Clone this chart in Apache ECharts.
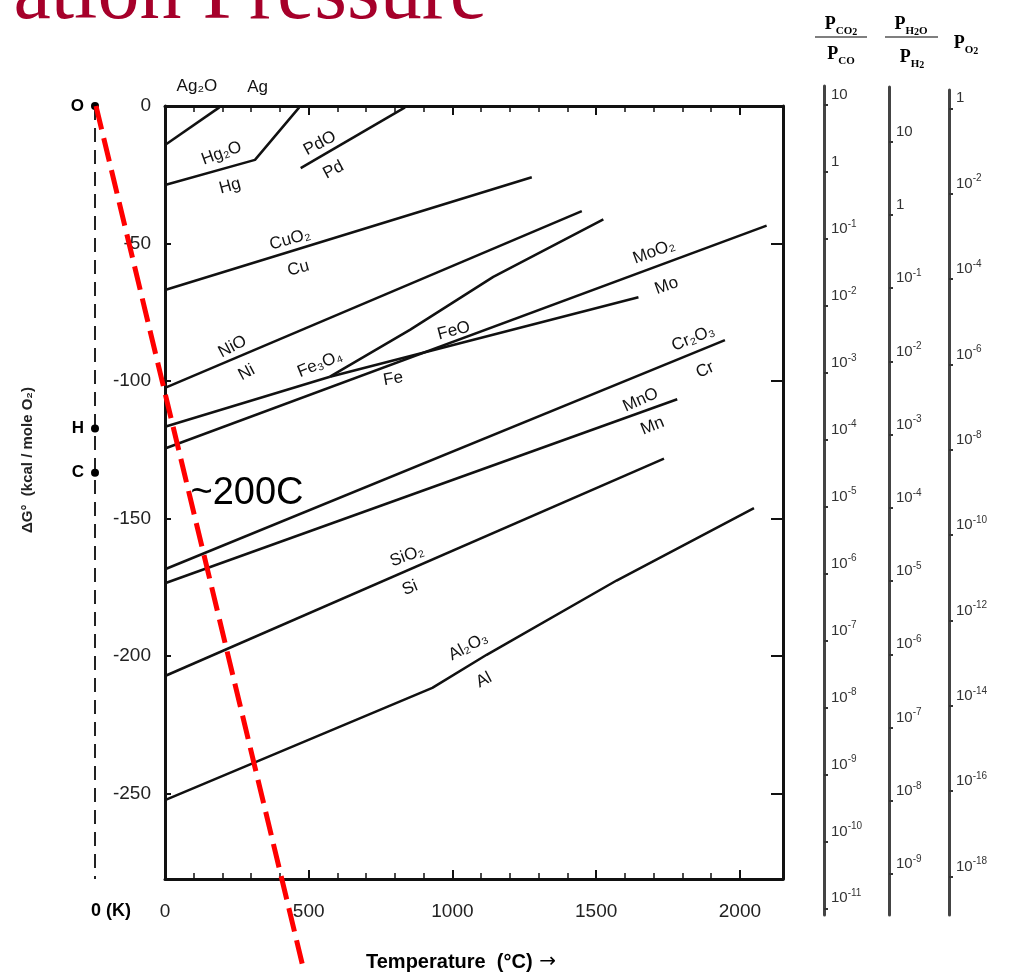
<!DOCTYPE html>
<html>
<head>
<meta charset="utf-8">
<script src="https://cdn.jsdelivr.net/npm/echarts@6/dist/echarts.min.js"></script>
<style>
html, body { margin: 0; padding: 0; background: #fff; }
#chart { width: 1010px; height: 976px; }
</style>
</head>
<body>
<div id="chart"></div>
<script>
// Ellingham lines: [temperature °C, ΔG° kcal / mole O2]
var agLine = [[0, -14.2], [189, -0.5]];
var hgLine = [[0, -28.7], [313, -19.6], [467, -0.5]];
var pdLine = [[472, -22.6], [835, -0.5]];
var cuLine = [[0, -66.9], [1276, -25.9]];
var niLine = [[0, -102.5], [1450, -38.2]];
var feFe3o4Line = [[0, -116.6], [574, -98.4]];
var feFeoLine = [[574, -98.4], [1647, -69.5]];
var feoFe3o4Line = [[574, -98.4], [852, -81.4], [1142, -62.1], [1525, -41.2]];
var moLine = [[0, -124.5], [2093, -43.5]];
var crLine = [[0, -168.4], [1948, -85.1]];
var mnLine = [[0, -173.5], [1782, -106.6]];
var siLine = [[0, -207.2], [1736, -128.2]];
var alLine = [[0, -252.3], [930, -211.5], [1119, -199.5], [1571, -172.5], [2049, -146.2]];

// 0 K axis with the O / H / C points, and the red guide line
var zeroK = -243.5;
var zeroKLine = [[zeroK, 0], [zeroK, -281]];
var nomoPoints = [['O', 0], ['H', -117.2], ['C', -133.3]];
var redLine = [[-240, 0], [481, -313.4]];

// axis ticks and labels
var tempLabels = [0, 500, 1000, 1500, 2000];
var tempMinor = [100, 200, 300, 400, 600, 700, 800, 900, 1100, 1200, 1300, 1400, 1600, 1700, 1800, 1900];
var dgLabels = [0, -50, -100, -150, -200, -250];

// right-hand scales, log10 values of the tick labels
var co2Exp = [1, 0, -1, -2, -3, -4, -5, -6, -7, -8, -9, -10, -11];
var h2oExp = [1, 0, -1, -2, -3, -4, -5, -6, -7, -8, -9];
var o2Exp = [0, -2, -4, -6, -8, -10, -12, -14, -16, -18];

// curve labels: text, T, ΔG, angle
var curveLabels = [
  ['Ag₂O', 111, 7.3, 0], ['Ag', 322, 6.9, 0],
  ['Hg₂O', 197, -17.2, 20], ['Hg', 226, -29.1, 15],
  ['PdO', 539, -13.6, 28], ['Pd', 586, -23.3, 28],
  ['CuO₂', 435, -48.5, 16], ['Cu', 464, -59, 15],
  ['NiO', 235, -87.5, 28], ['Ni', 284, -96.9, 28],
  ['Fe₃O₄', 539, -93.8, 22], ['Fe', 794, -99.2, 10], ['FeO', 1005, -81.7, 15],
  ['MoO₂', 1701, -53, 20], ['Mo', 1745, -65.4, 20],
  ['Cr₂O₃', 1838, -84.4, 22], ['Cr', 1879, -96, 25],
  ['MnO', 1655, -106.9, 24], ['Mn', 1696, -116.3, 22],
  ['SiO₂', 842, -163.6, 20], ['Si', 852, -175.2, 22],
  ['Al₂O₃', 1055, -196.5, 28], ['Al', 1110, -208.7, 28]
];

var sans = "'Liberation Sans', Arial, sans-serif";
var serif = "'Liberation Serif', 'Times New Roman', serif";

function pow10(n) {
  if (n === 0) return '1';
  if (n === 1) return '10';
  return '10{s|' + n + '}';
}

function curve(data) {
  return {
    type: 'line',
    data: data,
    showSymbol: false,
    symbol: 'none',
    lineStyle: { color: '#111', width: 2.5 },
    z: 3
  };
}

function hiddenX(idx, min, max) {
  return { type: 'value', gridIndex: idx, min: min, max: max, show: false };
}

function logAxis(idx, min, max, exps) {
  return {
    type: 'value',
    gridIndex: idx,
    min: min,
    max: max,
    position: 'left',
    splitLine: { show: false },
    axisLine: { show: true, onZero: false, lineStyle: { color: '#444', width: 3 } },
    axisTick: { show: true, inside: true, length: 4, customValues: exps, lineStyle: { color: '#333', width: 2 } },
    axisLabel: {
      inside: true,
      margin: 7,
      customValues: exps,
      formatter: function (v) { return pow10(v); },
      fontFamily: sans,
      fontSize: 15,
      color: '#333',
      verticalAlign: 'bottom',
      lineHeight: 20,
      rich: { s: { fontSize: 10, fontFamily: sans, color: '#333', verticalAlign: 'top', lineHeight: 10 } }
    }
  };
}

var chart = echarts.init(document.getElementById('chart'));

var headRich = {
  p: { fontSize: 18, fontWeight: 'bold', fontFamily: serif, color: '#333', lineHeight: 26 },
  s: { fontSize: 11, fontWeight: 'bold', fontFamily: serif, color: '#333', lineHeight: 13, verticalAlign: 'bottom' },
  t: { fontSize: 10, fontWeight: 'bold', fontFamily: serif, color: '#333', lineHeight: 11, verticalAlign: 'bottom' }
};

function head(text, x, y) {
  return {
    type: 'text', x: x, y: y,
    style: { text: text, rich: headRich, align: 'center', verticalAlign: 'middle' }
  };
}

var plainNum = function (v) { return String(v); };

var option = {
  backgroundColor: '#fff',
  animation: false,
  grid: [
    { left: 165, top: 106, width: 618, height: 773 },
    { left: 824, top: 86, width: 40, height: 829 },
    { left: 889, top: 87, width: 40, height: 828 },
    { left: 949, top: 90, width: 40, height: 825 },
    // same scale as the main plot, widened to reach the 0 K line
    { left: 95, top: 106, width: 688, height: 773 }
  ],
  xAxis: [
    {
      type: 'value', gridIndex: 0, min: 0, max: 2150, position: 'bottom',
      splitLine: { show: false },
      axisLine: { onZero: false, lineStyle: { color: '#111', width: 3 } },
      axisTick: { inside: true, length: 9, customValues: tempLabels, lineStyle: { color: '#111', width: 2 } },
      axisLabel: { customValues: tempLabels, formatter: plainNum, margin: 23, fontSize: 19, fontFamily: sans, color: '#222' }
    },
    {
      type: 'value', gridIndex: 0, min: 0, max: 2150, position: 'bottom',
      splitLine: { show: false },
      axisLine: { show: false, onZero: false },
      axisTick: { inside: true, length: 6, customValues: tempMinor, lineStyle: { color: '#111', width: 1.5 } },
      axisLabel: { show: false }
    },
    {
      type: 'value', gridIndex: 0, min: 0, max: 2150, position: 'top',
      splitLine: { show: false },
      axisLine: { onZero: false, lineStyle: { color: '#111', width: 3 } },
      axisTick: { inside: true, length: 9, customValues: tempLabels, lineStyle: { color: '#111', width: 2 } },
      axisLabel: { show: false }
    },
    {
      type: 'value', gridIndex: 0, min: 0, max: 2150, position: 'top',
      splitLine: { show: false },
      axisLine: { show: false, onZero: false },
      axisTick: { inside: true, length: 6, customValues: tempMinor, lineStyle: { color: '#111', width: 1.5 } },
      axisLabel: { show: false }
    },
    hiddenX(1, 0, 1), hiddenX(2, 0, 1), hiddenX(3, 0, 1),
    hiddenX(4, zeroK, 2150)
  ],
  yAxis: [
    {
      type: 'value', gridIndex: 0, min: -281, max: 0, position: 'left',
      splitLine: { show: false },
      axisLine: { onZero: false, lineStyle: { color: '#111', width: 3 } },
      axisTick: { inside: true, length: 6, customValues: dgLabels, lineStyle: { color: '#111', width: 2 } },
      axisLabel: { customValues: dgLabels, formatter: plainNum, margin: 14, fontSize: 19, fontFamily: sans, color: '#222' }
    },
    {
      type: 'value', gridIndex: 0, min: -281, max: 0, position: 'right',
      splitLine: { show: false },
      axisLine: { onZero: false, lineStyle: { color: '#111', width: 3 } },
      axisTick: { inside: true, length: 12, customValues: dgLabels.slice(1), lineStyle: { color: '#111', width: 2 } },
      axisLabel: { show: false }
    },
    logAxis(1, -11.1, 1.284, co2Exp),
    logAxis(2, -9.56, 1.747, h2oExp),
    logAxis(3, -18.9, 0.43, o2Exp),
    { type: 'value', gridIndex: 4, min: -281, max: 0, show: false }
  ],
  series: [
    curve(agLine), curve(hgLine), curve(pdLine), curve(cuLine), curve(niLine),
    curve(feFe3o4Line), curve(feFeoLine), curve(feoFe3o4Line), curve(moLine),
    curve(crLine), curve(mnLine), curve(siLine), curve(alLine),
    {
      type: 'line',
      xAxisIndex: 7, yAxisIndex: 5,
      data: zeroKLine,
      showSymbol: false,
      symbol: 'none',
      clip: false,
      lineStyle: { color: '#222', width: 2, type: [14, 8] },
      z: 2
    },
    {
      type: 'scatter',
      xAxisIndex: 7, yAxisIndex: 5,
      clip: false,
      symbolSize: 8,
      itemStyle: { color: '#000', opacity: 1 },
      data: nomoPoints.map(function (p) {
        return { name: p[0], value: [zeroK, p[1]] };
      }).concat([{
        name: '0 (K)', value: [zeroK, -281], symbolSize: 0,
        label: { position: 'bottom', distance: 23, offset: [16, 0], fontSize: 18 }
      }]),
      label: {
        show: true, position: 'left', distance: 7,
        formatter: '{b}', fontSize: 17, fontFamily: sans, fontWeight: 'bold', color: '#000'
      },
      z: 4
    },
    {
      type: 'scatter',
      clip: false,
      symbolSize: 1,
      itemStyle: { color: 'rgba(0,0,0,0)', opacity: 1 },
      data: curveLabels.map(function (l) {
        return { name: l[0], value: [l[1], l[2]], label: { rotate: l[3] } };
      }),
      label: {
        show: true, position: 'inside', formatter: '{b}',
        fontSize: 17, fontFamily: sans, color: '#111'
      },
      z: 5
    },
    {
      type: 'scatter',
      clip: false,
      symbolSize: 1,
      itemStyle: { color: 'rgba(0,0,0,0)', opacity: 1 },
      data: [{ name: '~200C', value: [87, -140.7] }],
      label: {
        show: true, position: 'right', distance: 0, formatter: '{b}',
        fontSize: 38, fontFamily: sans, color: '#000'
      },
      z: 6
    },
    {
      type: 'line',
      xAxisIndex: 7, yAxisIndex: 5,
      data: redLine,
      showSymbol: false,
      symbol: 'none',
      clip: false,
      lineStyle: { color: '#ff0000', width: 5, type: [24, 9] },
      z: 10
    }
  ],
  graphic: [
    {
      type: 'text', x: 487, y: -4,
      style: { text: 'ation Pressure', font: '84px ' + serif, fill: '#a6002a', align: 'right', verticalAlign: 'middle' }
    },
    {
      type: 'text', x: 28, y: 460, rotation: Math.PI / 2,
      style: { text: 'ΔG°  (kcal / mole O₂)', font: 'bold 15px ' + sans, fill: '#222', align: 'center', verticalAlign: 'middle' }
    },
    {
      type: 'text', x: 461, y: 962,
      style: {
        text: '{t|Temperature  (°C)}  {a|→}',
        rich: {
          t: { fontSize: 20, fontWeight: 'bold', fontFamily: sans, color: '#222' },
          a: { fontSize: 20, fontFamily: "'DejaVu Sans', sans-serif", color: '#222' }
        },
        align: 'center', verticalAlign: 'middle'
      }
    },
    head('{p|P}{s|CO}{t|2}', 841, 24),
    head('{p|P}{s|CO}', 841, 54),
    head('{p|P}{s|H}{t|2}{s|O}', 911, 24),
    head('{p|P}{s|H}{t|2}', 912, 57),
    head('{p|P}{s|O}{t|2}', 966, 43),
    { type: 'line', shape: { x1: 815, y1: 37, x2: 867, y2: 37 }, style: { stroke: '#555', lineWidth: 1.5 } },
    { type: 'line', shape: { x1: 885, y1: 37, x2: 938, y2: 37 }, style: { stroke: '#555', lineWidth: 1.5 } }
  ]
};

chart.setOption(option);
</script>
</body>
</html>
